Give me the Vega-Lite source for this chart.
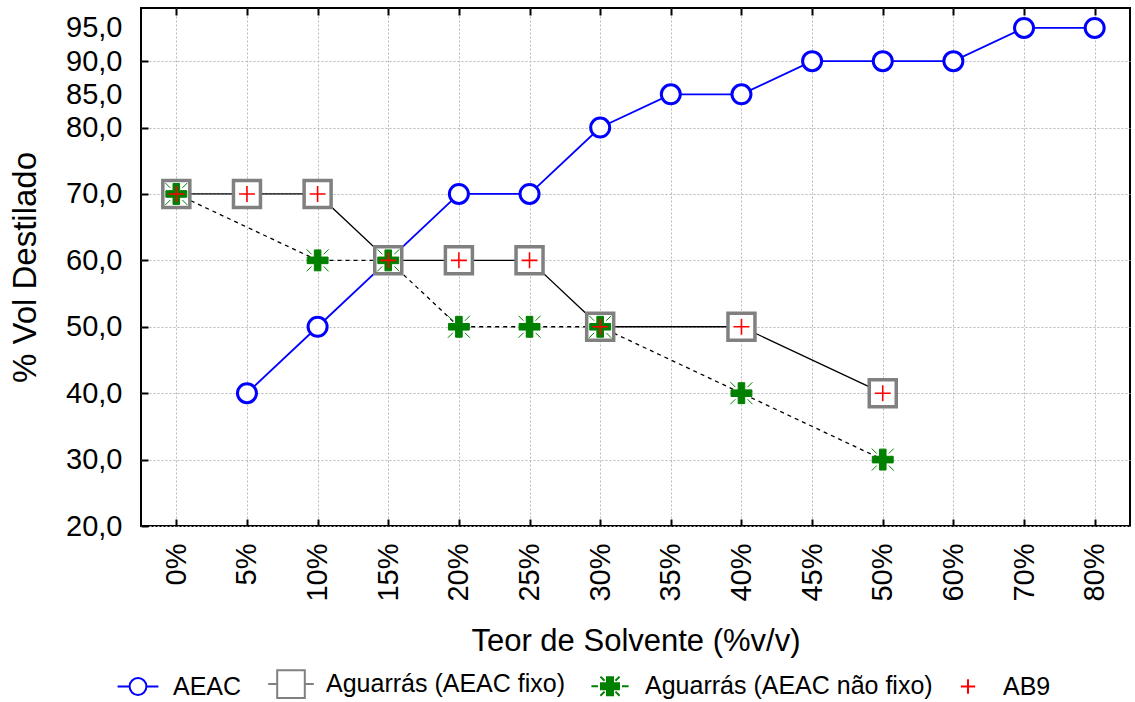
{
  "$schema": "https://vega.github.io/schema/vega-lite/v6.json",
  "width": 989,
  "height": 518,
  "autosize": "none",
  "padding": {"left": 141, "top": 8, "right": 5, "bottom": 176},
  "background": "white",
  "config": {
    "locale": {"number": {"decimal": ",", "thousands": ".", "grouping": [3], "currency": ["R$", ""]}},
    "font": "Liberation Sans",
    "view": {"stroke": "#000000", "strokeWidth": 2},
    "axis": {
      "labelFont": "Liberation Sans",
      "labelColor": "#000000",
      "titleFont": "Liberation Sans",
      "titleColor": "#000000",
      "titleFontWeight": "normal",
      "titleFontSize": 31,
      "labelFontSize": 29,
      "domain": false,
      "ticks": true,
      "tickColor": "#000000",
      "tickWidth": 2,
      "tickOpacity": 1,
      "gridColor": "#b8b8b8",
      "gridDash": [2, 2],
      "gridWidth": 1
    },
    "legend": {
      "orient": "none",
      "legendX": -16,
      "legendY": 663,
      "direction": "horizontal",
      "columns": 4,
      "title": null,
      "labelFont": "Liberation Sans",
      "labelFontSize": 25,
      "labelColor": "#000000",
      "labelLimit": 400,
      "symbolSize": 576,
      "symbolStrokeWidth": 2,
      "labelOffset": 22,
      "columnPadding": 22
    }
  },
  "datasets": {
    "destilacao": [
      {"teor": "5%", "serie": "AEAC", "valor": 40},
      {"teor": "10%", "serie": "AEAC", "valor": 50},
      {"teor": "15%", "serie": "AEAC", "valor": 60},
      {"teor": "20%", "serie": "AEAC", "valor": 70},
      {"teor": "25%", "serie": "AEAC", "valor": 70},
      {"teor": "30%", "serie": "AEAC", "valor": 80},
      {"teor": "35%", "serie": "AEAC", "valor": 85},
      {"teor": "40%", "serie": "AEAC", "valor": 85},
      {"teor": "45%", "serie": "AEAC", "valor": 90},
      {"teor": "50%", "serie": "AEAC", "valor": 90},
      {"teor": "60%", "serie": "AEAC", "valor": 90},
      {"teor": "70%", "serie": "AEAC", "valor": 95},
      {"teor": "80%", "serie": "AEAC", "valor": 95},
      {"teor": "0%", "serie": "Aguarrás (AEAC fixo)", "valor": 70},
      {"teor": "5%", "serie": "Aguarrás (AEAC fixo)", "valor": 70},
      {"teor": "10%", "serie": "Aguarrás (AEAC fixo)", "valor": 70},
      {"teor": "15%", "serie": "Aguarrás (AEAC fixo)", "valor": 60},
      {"teor": "20%", "serie": "Aguarrás (AEAC fixo)", "valor": 60},
      {"teor": "25%", "serie": "Aguarrás (AEAC fixo)", "valor": 60},
      {"teor": "30%", "serie": "Aguarrás (AEAC fixo)", "valor": 50},
      {"teor": "40%", "serie": "Aguarrás (AEAC fixo)", "valor": 50},
      {"teor": "50%", "serie": "Aguarrás (AEAC fixo)", "valor": 40},
      {"teor": "0%", "serie": "Aguarrás (AEAC não fixo)", "valor": 70},
      {"teor": "10%", "serie": "Aguarrás (AEAC não fixo)", "valor": 60},
      {"teor": "15%", "serie": "Aguarrás (AEAC não fixo)", "valor": 60},
      {"teor": "20%", "serie": "Aguarrás (AEAC não fixo)", "valor": 50},
      {"teor": "25%", "serie": "Aguarrás (AEAC não fixo)", "valor": 50},
      {"teor": "30%", "serie": "Aguarrás (AEAC não fixo)", "valor": 50},
      {"teor": "40%", "serie": "Aguarrás (AEAC não fixo)", "valor": 40},
      {"teor": "50%", "serie": "Aguarrás (AEAC não fixo)", "valor": 30},
      {"teor": "0%", "serie": "AB9", "valor": 70},
      {"teor": "5%", "serie": "AB9", "valor": 70},
      {"teor": "10%", "serie": "AB9", "valor": 70},
      {"teor": "15%", "serie": "AB9", "valor": 60},
      {"teor": "20%", "serie": "AB9", "valor": 60},
      {"teor": "25%", "serie": "AB9", "valor": 60},
      {"teor": "30%", "serie": "AB9", "valor": 50},
      {"teor": "40%", "serie": "AB9", "valor": 50},
      {"teor": "50%", "serie": "AB9", "valor": 40}
    ]
  },
  "data": {"name": "destilacao"},
  "resolve": {"axis": {"x": "independent", "y": "independent"}},
  "layer": [
    {
      "transform": [{"filter": "datum.serie === 'AEAC'"}],
      "mark": {"type": "line", "color": "#0000ff", "strokeWidth": 1.8},
      "encoding": {
        "x": {
          "field": "teor", "type": "nominal",
          "scale": {"type": "point", "padding": 0.5, "domain": ["0%", "5%", "10%", "15%", "20%", "25%", "30%", "35%", "40%", "45%", "50%", "60%", "70%", "80%"]},
          "axis": {
            "orient": "bottom",
            "title": "Teor de Solvente (%v/v)",
            "labelAngle": 270,
            "grid": false,
            "ticks": true,
            "offset": -7,
            "tickSize": 7,
            "labelPadding": 17,
            "titlePadding": 25
          }
        },
        "y": {
          "field": "valor", "type": "quantitative",
          "scale": {"domain": [20, 98], "nice": false, "zero": false},
          "axis": {
            "orient": "left",
            "title": "% Vol Destilado",
            "titleFontSize": 33,
            "values": [20, 30, 40, 50, 60, 70, 80, 90],
            "format": ".1f",
            "grid": false,
            "ticks": true,
            "offset": -7,
            "tickSize": 7,
            "labelPadding": 19,
            "titlePadding": 23
          }
        }
      }
    },
    {
      "transform": [{"filter": "datum.serie === 'Aguarrás (AEAC fixo)'"}],
      "mark": {"type": "line", "color": "#000000", "strokeWidth": 1.3},
      "encoding": {
        "x": {
          "field": "teor", "type": "nominal",
          "axis": {"orient": "bottom", "title": null, "labels": false, "ticks": false, "grid": true, "domain": false}
        },
        "y": {
          "field": "valor", "type": "quantitative",
          "axis": {"orient": "left", "title": null, "labels": false, "ticks": false, "grid": true, "domain": false, "values": [20, 30, 40, 50, 60, 70, 80, 90]}
        }
      }
    },
    {
      "transform": [{"filter": "datum.serie === 'Aguarrás (AEAC não fixo)'"}],
      "mark": {"type": "line", "color": "#000000", "strokeWidth": 1.3, "strokeDash": [4, 4]},
      "encoding": {
        "x": {"field": "teor", "type": "nominal", "axis": null},
        "y": {"field": "valor", "type": "quantitative", "axis": null}
      }
    },
    {
      "transform": [{"filter": "datum.serie === 'AEAC'"}],
      "mark": {"type": "point", "shape": "circle", "size": 361, "filled": true, "fill": "#ffffff", "stroke": "#0000ff", "strokeWidth": 3, "opacity": 1},
      "encoding": {
        "x": {"field": "teor", "type": "nominal", "axis": null},
        "y": {
          "field": "valor", "type": "quantitative",
          "axis": {
            "orient": "left", "title": null, "values": [85, 95], "format": ".1f",
            "grid": false, "ticks": false, "tickSize": 0, "labelPadding": 19, "domain": false
          }
        }
      }
    },
    {
      "transform": [{"filter": "datum.serie === 'Aguarrás (AEAC fixo)'"}],
      "mark": {"type": "point", "shape": "square", "size": 729, "filled": true, "fill": "#ffffff", "stroke": "#808080", "strokeWidth": 3.5, "opacity": 1},
      "encoding": {
        "x": {
          "field": "teor", "type": "nominal",
          "axis": {"orient": "top", "title": null, "labels": false, "grid": false, "ticks": true, "offset": -7, "tickSize": 7, "domain": false}
        },
        "y": {"field": "valor", "type": "quantitative", "axis": null}
      }
    },
    {
      "transform": [{"filter": "datum.serie === 'Aguarrás (AEAC não fixo)'"}],
      "mark": {
        "type": "point",
        "shape": "M-0.3,-0.95H0.3V-0.3H0.95V0.3H0.3V0.95H-0.3V0.3H-0.95V-0.3H-0.3Z M0.55,0.55L1,1 M-0.55,0.55L-1,1 M0.55,-0.55L1,-1 M-0.55,-0.55L-1,-1",
        "size": 484, "filled": true, "fill": "#008000", "stroke": "#008000", "strokeWidth": 1, "opacity": 1
      },
      "encoding": {
        "x": {"field": "teor", "type": "nominal", "axis": null},
        "y": {"field": "valor", "type": "quantitative", "axis": null}
      }
    },
    {
      "transform": [{"filter": "datum.serie === 'AB9'"}],
      "mark": {"type": "point", "shape": "M-1,0H1M0,-1V1", "size": 256, "filled": false, "stroke": "#ff0000", "strokeWidth": 1.6, "opacity": 1},
      "encoding": {
        "x": {"field": "teor", "type": "nominal", "axis": null},
        "y": {"field": "valor", "type": "quantitative", "axis": null}
      }
    },
    {
      "transform": [{"filter": "false"}],
      "mark": {"type": "point", "filled": true, "opacity": 1},
      "encoding": {
        "shape": {
          "field": "serie", "type": "nominal",
          "scale": {
            "domain": ["AEAC", "Aguarrás (AEAC fixo)", "Aguarrás (AEAC não fixo)", "AB9"],
            "range": [
              "M-1.7,0H-0.7M0.7,0H1.7M0.7,0A0.7,0.7 0 1,1 -0.7,0A0.7,0.7 0 1,1 0.7,0Z",
              "M-1.9,0H-1.15M1.15,0H1.9M-1.15,-1.15H1.15V1.15H-1.15Z",
              "M-1.55,0H-1.0M1.0,0H1.55M-0.25,-0.75H0.25V-0.25H0.75V0.25H0.25V0.75H-0.25V0.25H-0.75V-0.25H-0.25Z M0.45,0.45L0.8,0.8 M-0.45,0.45L-0.8,0.8 M0.45,-0.45L0.8,-0.8 M-0.45,-0.45L-0.8,-0.8",
              "M-0.6,0H0.6M0,-0.6V0.6"
            ]
          }
        },
        "fill": {
          "field": "serie", "type": "nominal",
          "scale": {
            "domain": ["AEAC", "Aguarrás (AEAC fixo)", "Aguarrás (AEAC não fixo)", "AB9"],
            "range": ["#ffffff", "#ffffff", "#008000", "#ffffff"]
          }
        },
        "stroke": {
          "field": "serie", "type": "nominal",
          "scale": {
            "domain": ["AEAC", "Aguarrás (AEAC fixo)", "Aguarrás (AEAC não fixo)", "AB9"],
            "range": ["#0000ff", "#808080", "#008000", "#ff0000"]
          }
        }
      }
    }
  ]
}
